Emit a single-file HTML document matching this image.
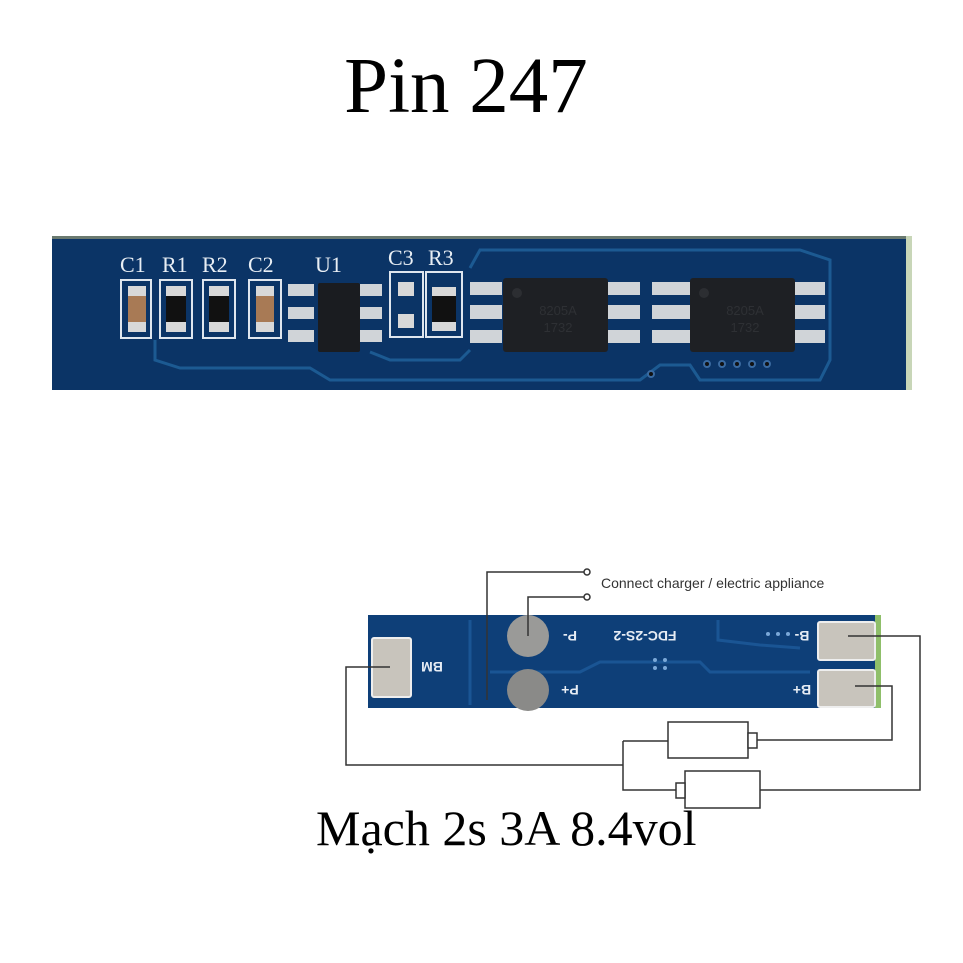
<!DOCTYPE html>
<html><head><meta charset="utf-8"><style>
html,body{margin:0;padding:0;background:#fff;}
svg{display:block;}
</style></head><body>
<svg width="963" height="963" viewBox="0 0 963 963" xmlns="http://www.w3.org/2000/svg">
<rect width="963" height="963" fill="#fff"/>
<text x="466" y="112" font-family="Liberation Serif, serif" font-size="79" text-anchor="middle" fill="#000">Pin 247</text>

<!-- top board -->
<rect x="52" y="236" width="860" height="154" fill="#0b3466"/>
<rect x="52" y="236" width="860" height="3" fill="#6a7a70"/>
<rect x="906" y="236" width="6" height="154" fill="#c8d6b8"/>
<g fill="none" stroke="#1c5a92" stroke-width="3">
<path d="M155 340 L155 360 L180 368 L310 368 L330 380 L640 380 L660 365 L690 365 L700 380 L820 380 L830 360 L830 260 L800 250 L480 250 L470 268"/>
<path d="M370 352 L390 360 L460 360 L470 350"/>
</g>
<g font-family="Liberation Serif, serif" font-size="22" fill="#e8eef4">
<text x="120" y="272">C1</text><text x="162" y="272">R1</text><text x="202" y="272">R2</text><text x="248" y="272">C2</text>
<text x="315" y="272">U1</text><text x="388" y="265">C3</text><text x="428" y="265">R3</text>
</g>
<g fill="none" stroke="#dfe6ee" stroke-width="2">
<rect x="121" y="280" width="30" height="58"/><rect x="160" y="280" width="32" height="58"/>
<rect x="203" y="280" width="32" height="58"/><rect x="249" y="280" width="32" height="58"/>
<rect x="390" y="272" width="33" height="65"/><rect x="426" y="272" width="36" height="65"/>
</g>
<rect x="128" y="286" width="18" height="46" fill="#d8d8d8"/><rect x="128" y="296" width="18" height="26" fill="#a87a55"/>
<rect x="256" y="286" width="18" height="46" fill="#d8d8d8"/><rect x="256" y="296" width="18" height="26" fill="#a87a55"/>
<rect x="166" y="286" width="20" height="46" fill="#d8d8d8"/><rect x="166" y="296" width="20" height="26" fill="#111"/>
<rect x="209" y="286" width="20" height="46" fill="#d8d8d8"/><rect x="209" y="296" width="20" height="26" fill="#111"/>
<rect x="432" y="287" width="24" height="44" fill="#d8d8d8"/><rect x="432" y="296" width="24" height="26" fill="#111"/>
<rect x="398" y="282" width="16" height="14" fill="#d8d8d8"/><rect x="398" y="314" width="16" height="14" fill="#d8d8d8"/>
<g fill="#d0d4d8">
<rect x="288" y="284" width="26" height="12"/><rect x="288" y="307" width="26" height="12"/><rect x="288" y="330" width="26" height="12"/>
<rect x="360" y="284" width="22" height="12"/><rect x="360" y="307" width="22" height="12"/><rect x="360" y="330" width="22" height="12"/>
</g>
<rect x="318" y="283" width="42" height="69" rx="2" fill="#1a1c20"/>
<g fill="#d0d4d8">
<rect x="470" y="282" width="32" height="13"/><rect x="470" y="305" width="32" height="14"/><rect x="470" y="330" width="32" height="13"/>
<rect x="608" y="282" width="32" height="13"/><rect x="608" y="305" width="32" height="14"/><rect x="608" y="330" width="32" height="13"/>
<rect x="652" y="282" width="38" height="13"/><rect x="652" y="305" width="38" height="14"/><rect x="652" y="330" width="38" height="13"/>
<rect x="795" y="282" width="30" height="13"/><rect x="795" y="305" width="30" height="14"/><rect x="795" y="330" width="30" height="13"/>
</g>
<rect x="503" y="278" width="105" height="74" rx="3" fill="#1e2024"/>
<rect x="690" y="278" width="105" height="74" rx="3" fill="#1e2024"/>
<circle cx="517" cy="293" r="5" fill="#2c2e32"/><circle cx="704" cy="293" r="5" fill="#2c2e32"/>
<g font-family="Liberation Sans, sans-serif" font-size="13" fill="#2e3034" text-anchor="middle">
<text x="558" y="315">8205A</text><text x="558" y="332">1732</text>
<text x="745" y="315">8205A</text><text x="745" y="332">1732</text>
</g>
<g fill="#111" stroke="#3a6aa0" stroke-width="2">
<circle cx="707" cy="364" r="3"/><circle cx="722" cy="364" r="3"/><circle cx="737" cy="364" r="3"/><circle cx="752" cy="364" r="3"/><circle cx="767" cy="364" r="3"/>
<circle cx="651" cy="374" r="3"/>
</g>

<!-- bottom board -->
<rect x="368" y="615" width="512" height="93" fill="#0e3f78"/>
<rect x="875" y="615" width="6" height="93" fill="#8fbf6a"/>
<g fill="none" stroke="#1a5594" stroke-width="3">
<path d="M470 620 L470 705"/>
<path d="M490 672 L580 672 L600 662 L700 662 L710 672 L810 672"/>
<path d="M718 620 L718 640 L760 645 L800 648"/>
</g>
<rect x="372" y="638" width="39" height="59" rx="2" fill="#c8c4bc" stroke="#eee" stroke-width="2"/>
<rect x="818" y="622" width="57" height="38" rx="2" fill="#c8c4bc" stroke="#eee" stroke-width="2"/>
<rect x="818" y="670" width="57" height="37" rx="2" fill="#c8c4bc" stroke="#eee" stroke-width="2"/>
<circle cx="528" cy="636" r="21" fill="#9a9a98"/>
<circle cx="528" cy="690" r="21" fill="#8a8a88"/>
<g font-family="Liberation Sans, sans-serif" font-size="14" font-weight="bold" fill="#e6ecf4" text-anchor="middle">
<text transform="translate(432,667) rotate(180)" dy="5">BM</text>
<text transform="translate(570,636) rotate(180)" dy="5">P-</text>
<text transform="translate(570,690) rotate(180)" dy="5">P+</text>
<text transform="translate(645,636) rotate(180)" dy="5">FDC-2S-2</text>
<text transform="translate(802,636) rotate(180)" dy="5">B-</text>
<text transform="translate(802,690) rotate(180)" dy="5">B+</text>
</g>
<g fill="#7aa8d8"><circle cx="768" cy="634" r="2"/><circle cx="778" cy="634" r="2"/><circle cx="788" cy="634" r="2"/><circle cx="655" cy="660" r="2"/><circle cx="665" cy="660" r="2"/><circle cx="655" cy="668" r="2"/><circle cx="665" cy="668" r="2"/></g>

<g fill="none" stroke="#333" stroke-width="1.5">
<path d="M487 700 L487 572 L584 572"/>
<path d="M528 636 L528 597 L584 597"/>
<path d="M390 667 L346 667 L346 765 L623 765"/>
<path d="M623 741 L623 790 L676 790"/>
<path d="M623 741 L668 741"/>
<path d="M757 740 L892 740 L892 686 L855 686"/>
<path d="M760 790 L920 790 L920 636 L848 636"/>
<rect x="668" y="722" width="80" height="36" fill="#fff"/>
<rect x="748" y="733" width="9" height="15" fill="#fff"/>
<rect x="685" y="771" width="75" height="37" fill="#fff"/>
<rect x="676" y="783" width="9" height="15" fill="#fff"/>
<circle cx="587" cy="572" r="3" fill="#fff"/>
<circle cx="587" cy="597" r="3" fill="#fff"/>
</g>
<text x="601" y="588" font-family="Liberation Sans, sans-serif" font-size="14" fill="#333">Connect charger / electric appliance</text>
<text x="316" y="845" font-family="Liberation Serif, serif" font-size="50" fill="#000">Mạch 2s 3A 8.4vol</text>
</svg>
</body></html>
